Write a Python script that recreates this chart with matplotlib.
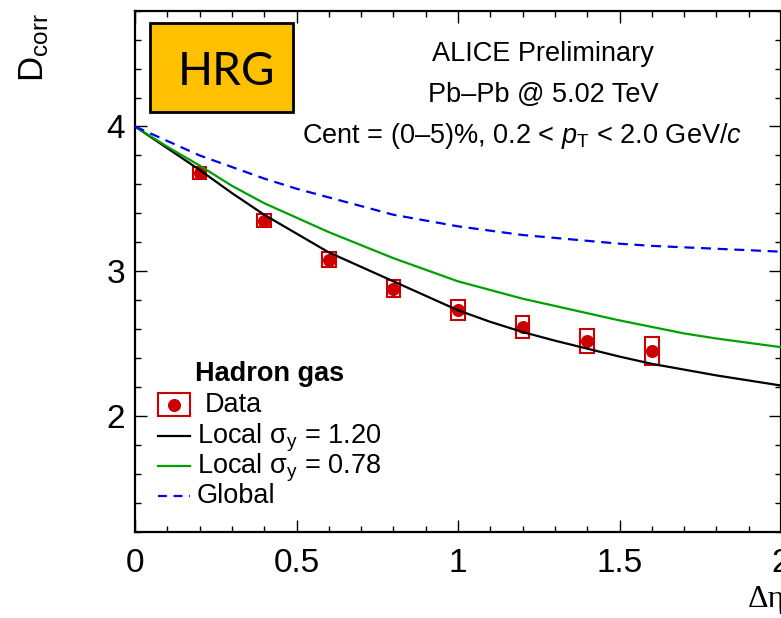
import matplotlib
matplotlib.use('Agg')
import matplotlib.pyplot as plt
from matplotlib.lines import Line2D
from matplotlib.patches import Rectangle
from matplotlib.ticker import MultipleLocator
import numpy as np

plt.rcParams['font.family'] = ['Liberation Sans', 'DejaVu Sans']
plt.rcParams['mathtext.fontset'] = 'custom'
plt.rcParams['mathtext.rm'] = 'Liberation Sans'
plt.rcParams['mathtext.it'] = 'Liberation Sans:italic'
plt.rcParams['mathtext.bf'] = 'Liberation Sans:bold'

# ALICE preliminary data points (Delta eta, D_corr, systematic half height)
deta = [0.2, 0.4, 0.6, 0.8, 1.0, 1.2, 1.4, 1.6]
dcorr = [3.68, 3.35, 3.08, 2.88, 2.73, 2.615, 2.52, 2.447]
dsys = [0.04, 0.046, 0.052, 0.06, 0.069, 0.075, 0.082, 0.095]

# HRG model curves, every 0.1 in Delta eta
eta_model = [0.0, 0.1, 0.2, 0.3, 0.4, 0.5, 0.6, 0.7, 0.8, 0.9, 1.0,
             1.1, 1.2, 1.3, 1.4, 1.5, 1.6, 1.7, 1.8, 1.9, 2.0]
local_120 = [4.00, 3.85, 3.70, 3.54, 3.39, 3.26, 3.13, 3.03, 2.93, 2.83, 2.73,
             2.65, 2.58, 2.52, 2.465, 2.41, 2.36, 2.32, 2.28, 2.245, 2.21]
local_078 = [4.00, 3.86, 3.73, 3.59, 3.47, 3.37, 3.27, 3.18, 3.09, 3.01, 2.93,
             2.87, 2.81, 2.76, 2.71, 2.66, 2.615, 2.57, 2.535, 2.505, 2.475]
global_cc = [4.00, 3.90, 3.80, 3.72, 3.64, 3.57, 3.51, 3.45, 3.39, 3.35, 3.31,
             3.28, 3.25, 3.23, 3.21, 3.19, 3.175, 3.165, 3.155, 3.145, 3.135]

red = '#cc0000'
green = '#00a000'
blue = '#0000ee'

W, H = 781, 618
fig = plt.figure(figsize=(W / 100, H / 100), dpi=100)


def fx(px):
    return px / W


def fy(py):
    return 1 - py / H


# axes runs off the right edge like in the original crop
ax = fig.add_axes([fx(135), fy(531.7), 646 / W, 521 / H])

x = np.array(deta)
y = np.array(dcorr)
s = np.array(dsys)

# systematic boxes
ax.bar(x, 2 * s, bottom=y - s, width=0.042, fill=False,
       edgecolor=red, linewidth=1.5, zorder=3)
ax.plot(x, y, 'o', color=red, markersize=8.4, zorder=4)

ax.plot(eta_model, local_120, color='black', lw=1.6, zorder=5)
ax.plot(eta_model, local_078, color=green, lw=1.6, zorder=5)
ax.plot(eta_model, global_cc, color=blue, lw=1.6, dashes=(4.5, 3), zorder=5)

ax.set_xlim(0, 2)
ax.set_ylim(1.2, 4.8)
ax.xaxis.set_major_locator(MultipleLocator(0.5))
ax.xaxis.set_minor_locator(MultipleLocator(0.1))
ax.yaxis.set_major_locator(MultipleLocator(1))
ax.yaxis.set_minor_locator(MultipleLocator(0.2))
ax.set_xticks([0, 0.5, 1, 1.5, 2])
ax.set_xticklabels(['0', '0.5', '1', '1.5', '2'])
ax.set_yticks([2, 3, 4])
ax.tick_params(which='both', direction='in', top=True, right=True, width=1)
ax.tick_params(which='major', length=8.6)
ax.tick_params(which='minor', length=4.3)
ax.tick_params(axis='x', labelsize=24, pad=12)
ax.tick_params(axis='y', labelsize=24, pad=7)
for sp in ax.spines.values():
    sp.set_linewidth(1.6)

# axis titles
fig.text(fx(34), fy(48), r'D$_{\mathregular{corr}}$', rotation=90,
         ha='center', va='center', fontsize=25)
fig.text(fx(748), fy(600), 'Δη', ha='left', va='center', fontsize=23,
         family=['Liberation Serif', 'DejaVu Serif'])

# HRG badge
fig.patches.append(Rectangle((fx(150), fy(112)), 143 / W, 89 / H,
                             transform=fig.transFigure, facecolor='#ffc000',
                             edgecolor='black', linewidth=2, zorder=10))
fig.text(fx(226), fy(72), 'HRG', ha='center', va='center', fontsize=33,
         family=['Lato', 'DejaVu Sans'], zorder=11)

# ALICE label
fig.text(fx(543), fy(61), 'ALICE Preliminary', ha='center', va='baseline', fontsize=19.5)
fig.text(fx(543), fy(102), 'Pb–Pb @ 5.02 TeV', ha='center', va='baseline', fontsize=19.5)
fig.text(fx(522), fy(143), r'Cent = (0–5)%, 0.2 < $p_{\mathregular{T}}$ < 2.0 GeV/$c$',
         ha='center', va='baseline', fontsize=19.5)

# legend, laid out by hand like the ROOT TLegend
fig.text(fx(195), fy(381), 'Hadron gas', ha='left', va='baseline',
         fontsize=19.5, fontweight='bold')

fig.patches.append(Rectangle((fx(158), fy(416)), 32 / W, 23 / H,
                             transform=fig.transFigure, fill=False,
                             edgecolor=red, linewidth=1.5))
fig.add_artist(Line2D([fx(174)], [fy(404.5)], transform=fig.transFigure,
                      marker='o', color=red, markersize=8.4, linestyle='none'))
fig.text(fx(205), fy(412), 'Data', ha='left', va='baseline', fontsize=19.5)

fig.add_artist(Line2D([fx(158), fx(190)], [fy(436), fy(436)],
                      transform=fig.transFigure, color='black', lw=1.6))
fig.text(fx(197), fy(443), r'Local σ$_{\mathregular{y}}$ = 1.20',
         ha='left', va='baseline', fontsize=19.5)

fig.add_artist(Line2D([fx(158), fx(190)], [fy(466), fy(466)],
                      transform=fig.transFigure, color=green, lw=1.6))
fig.text(fx(197), fy(473), r'Local σ$_{\mathregular{y}}$ = 0.78',
         ha='left', va='baseline', fontsize=19.5)

fig.add_artist(Line2D([fx(158), fx(190)], [fy(496), fy(496)],
                      transform=fig.transFigure, color=blue, lw=1.6,
                      dashes=(4, 3)))
fig.text(fx(197), fy(503), 'Global', ha='left', va='baseline', fontsize=19.5)

plt.savefig('out.png', dpi=100)
